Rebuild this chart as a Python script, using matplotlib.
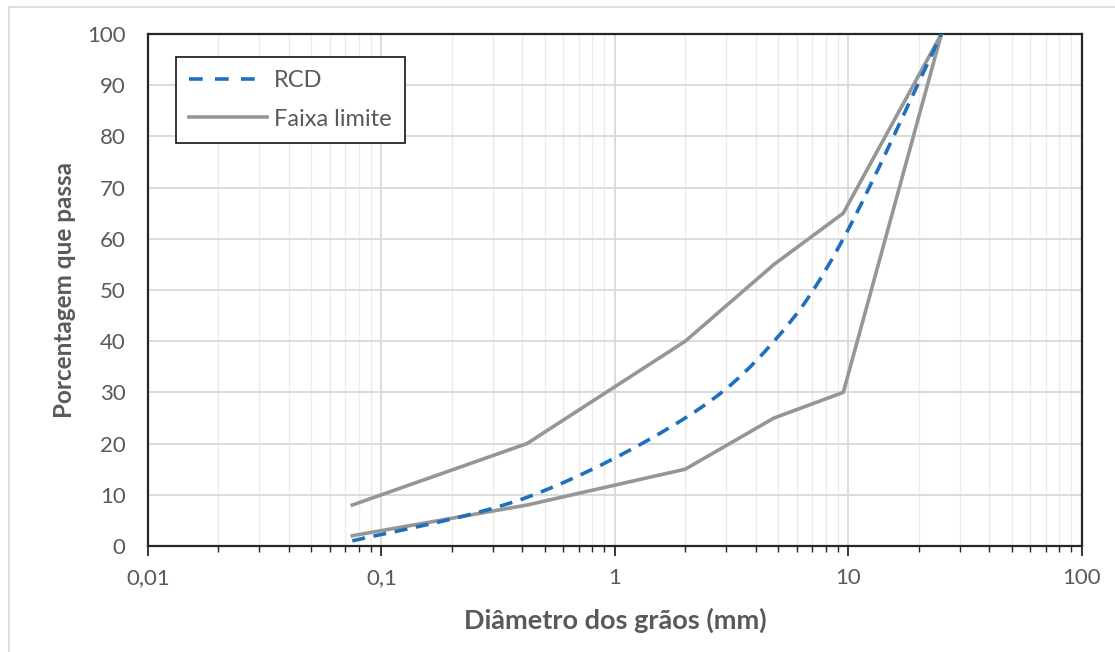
import numpy as np
import matplotlib.pyplot as plt
from matplotlib.path import Path
from matplotlib.patches import PathPatch
from matplotlib.lines import Line2D
from matplotlib.ticker import LogLocator, FixedLocator, NullFormatter

# sieve openings (mm) and percent passing
sieves = [0.075, 0.42, 2.0, 4.8, 9.5, 25.0]
rcd = [1, 9.5, 25, 40, 60, 100]
upper_limit = [8, 20, 40, 55, 65, 100]
lower_limit = [2, 8, 15, 25, 30, 100]

x_ticks = [0.01, 0.1, 1, 10, 100]
x_labels = ['0,01', '0,1', '1', '10', '100']
y_ticks = [0, 10, 20, 30, 40, 50, 60, 70, 80, 90, 100]

GRAY = '#969696'
BLUE = '#1f6fbf'
TXT = '#595959'
DASH = (0, (3.6, 2.4))


def smooth_path(xs, ys):
    # Excel style smoothed line: cubic bezier through the points (log x)
    lx = np.log10(xs)
    ys = np.asarray(ys, float)
    pts = np.column_stack([lx, ys])
    verts = [pts[0]]
    codes = [Path.MOVETO]
    n = len(pts)
    for i in range(n - 1):
        p0 = pts[max(i - 1, 0)]
        p1 = pts[i]
        p2 = pts[i + 1]
        p3 = pts[min(i + 2, n - 1)]
        c1 = p1 + (p2 - p0) / 6.0
        c2 = p2 - (p3 - p1) / 6.0
        verts += [c1, c2, p2]
        codes += [Path.CURVE4] * 3
    verts = np.array(verts)
    verts[:, 0] = 10 ** verts[:, 0]
    return Path(verts, codes)


def main():
    plt.rcParams['font.family'] = ['Lato', 'DejaVu Sans']
    fig = plt.figure(figsize=(11.15, 6.52), dpi=100)
    ax = fig.add_axes([0.1327, 0.1626, 0.8377, 0.7853])

    ax.set_xscale('log')
    ax.set_xlim(0.01, 100)
    ax.set_ylim(0, 100)

    ax.plot(sieves, upper_limit, color=GRAY, lw=2.6, zorder=3)
    ax.plot(sieves, lower_limit, color=GRAY, lw=2.6, zorder=3)

    patch = PathPatch(smooth_path(sieves, rcd), fill=False, edgecolor=BLUE,
                      lw=2.6, linestyle=DASH, zorder=4)
    ax.add_patch(patch)

    ax.xaxis.set_major_locator(FixedLocator(x_ticks))
    ax.set_xticklabels(x_labels)
    ax.xaxis.set_minor_locator(LogLocator(base=10, subs=np.arange(2, 10)))
    ax.xaxis.set_minor_formatter(NullFormatter())
    ax.set_yticks(y_ticks)

    ax.grid(which='major', axis='both', color='#d9d9d9', lw=1.3)
    ax.grid(which='minor', axis='x', color='#ececec', lw=1.0)
    ax.set_axisbelow(True)

    for s in ax.spines.values():
        s.set_color('#262626')
        s.set_linewidth(1.6)

    ax.tick_params(axis='x', which='major', direction='out', length=7,
                   width=1.3, color='#262626', labelsize=16, labelcolor=TXT,
                   pad=9)
    ax.tick_params(axis='x', which='minor', direction='out', length=4,
                   width=1.0, color='#262626')
    ax.tick_params(axis='y', length=0, labelsize=16, labelcolor=TXT, pad=16)

    ax.set_xlabel('Diâmetro dos grãos (mm)', fontsize=19.5,
                  fontweight='bold', color=TXT, labelpad=14)
    ax.set_ylabel('Porcentagem que passa', fontsize=17.5, fontweight='bold',
                  color=TXT, labelpad=8)

    handles = [Line2D([], [], color=BLUE, lw=2.6, linestyle=(0, (3.8, 3.4))),
               Line2D([], [], color=GRAY, lw=2.6)]
    leg = ax.legend(handles, ['RCD', 'Faixa limite'], loc='upper left',
                    bbox_to_anchor=(0.03, 0.955), fontsize=17,
                    labelcolor=TXT, fancybox=False, framealpha=1,
                    edgecolor='#262626', borderpad=0.55, labelspacing=0.75,
                    handlelength=3.3, handletextpad=0.3, borderaxespad=0)
    leg.get_frame().set_linewidth(1.3)

    # outer chart border (left and top visible)
    fig.add_artist(Line2D([9 / 1115, 9 / 1115], [0, 1 - 7 / 652],
                          color='#d9d9d9', lw=1.2))
    fig.add_artist(Line2D([9 / 1115, 1], [1 - 7 / 652, 1 - 7 / 652],
                          color='#d9d9d9', lw=1.2))

    fig.savefig('out.png', dpi=100)


if __name__ == "__main__":
    main()
